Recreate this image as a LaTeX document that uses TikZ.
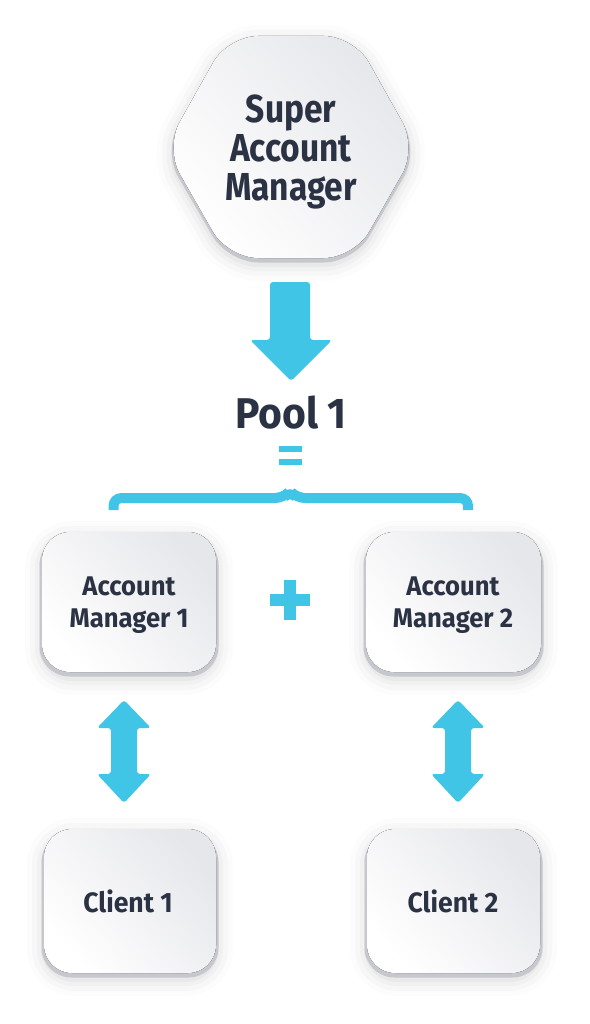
\documentclass[tikz,border=0pt]{standalone}
\usepackage{fontspec}
\newfontfamily\lblfont[FakeStretch=0.86]{Fira Sans}
\newfontfamily\widefont[FakeStretch=0.95]{Fira Sans}
\definecolor{cyanA}{HTML}{41C5E6}
\definecolor{txtC}{HTML}{2A3244}
\definecolor{faceG}{HTML}{E6E7EB}
\definecolor{rimG}{HTML}{C6C8CE}
\newcommand\softbox[4]{%
  \foreach \w/\o in {34/0.012,24/0.018,14/0.025,6/0.03}{
    \draw[black,opacity=\o,line width=\w pt,rounded corners=30pt] (#1,#2+6) rectangle (#3,#4+6);}
  \fill[rimG,rounded corners=30pt] (#1-2.5,#2+3) rectangle (#3+2.5,#4+4.5);
  \fill[rounded corners=28pt,shading=axis,top color=faceG,bottom color=white,shading angle=-50] (#1,#2) rectangle (#3,#4);
}
\tikzset{
  lbl/.style={font=\lblfont\bfseries, text=txtC, align=center, inner sep=0pt},
  blk/.style={fill=cyanA, rounded corners=3pt},
}
\begin{document}
\begin{tikzpicture}[x=1pt,y=-1pt]
\useasboundingbox[fill=white] (0,0) rectangle (589,1024);
% hexagon shadow, rim, face
\foreach \w/\o in {34/0.012,24/0.018,14/0.025,6/0.03}{
  \draw[black,opacity=\o,line width=\w pt,rounded corners=30pt]
   (228,42) -- (354,42) -- (417,154) -- (354,264) -- (228,264) -- (165,154) -- cycle;}
\fill[rimG,rounded corners=30pt]
   (228,40) -- (354,40) -- (419,151) -- (354,262.5) -- (228,262.5) -- (163,151) -- cycle;
\fill[rounded corners=30pt,shading=axis,top color=faceG,bottom color=white,shading angle=-50]
   (228,36) -- (354,36) -- (417,148) -- (354,258) -- (228,258) -- (165,148) -- cycle;
\node[lbl, font=\lblfont\bfseries\fontsize{39}{39}\selectfont] (sam) at (291,152) {Super\\Account\\Manager};
% down arrow
\fill[blk] (270,282) -- (310,282) -- (310,340) -- (332,340) -- (291,381) -- (250,340) -- (270,340) -- cycle;
\node[lbl, font=\widefont\bfseries\fontsize{43}{43}\selectfont, anchor=base] (pool) at (291,428) {Pool 1};
% equals
\fill[cyanA] (279,446) rectangle (302,452);
\fill[cyanA] (279,459) rectangle (302,465);
% brace
\draw[cyanA, line width=10pt, rounded corners=8pt] (113.5,510) -- (113.5,498) -- (283,498) -- (290,491) -- (297,498) -- (468,498) -- (468,510);
% boxes
\softbox{42}{532}{216}{672}
\softbox{366}{532}{541}{672}
\softbox{44}{829}{216}{973}
\softbox{367}{829}{540}{973}
\node[lbl, font=\widefont\bfseries\fontsize{27}{32.5}\selectfont] (am1) at (129,605) {Account\\Manager 1};
\node[lbl, font=\widefont\bfseries\fontsize{27}{32.5}\selectfont] (am2) at (453,605) {Account\\Manager 2};
\node[lbl, font=\widefont\bfseries\fontsize{28}{32}\selectfont, anchor=base] (c1) at (128,912) {Client 1};
\node[lbl, font=\widefont\bfseries\fontsize{28}{32}\selectfont, anchor=base] (c2) at (453,912) {Client 2};
% plus
\fill[cyanA] (284,580) rectangle (296,620);
\fill[cyanA] (270,594) rectangle (310,606);
% double arrows
\foreach \cx in {124,458}{
  \fill[blk] (\cx,700) -- (\cx+27,728) -- (\cx+13,728) -- (\cx+13,774) -- (\cx+27,774) -- (\cx,803)
     -- (\cx-27,774) -- (\cx-13,774) -- (\cx-13,728) -- (\cx-27,728) -- cycle;}
\end{tikzpicture}
\end{document}
